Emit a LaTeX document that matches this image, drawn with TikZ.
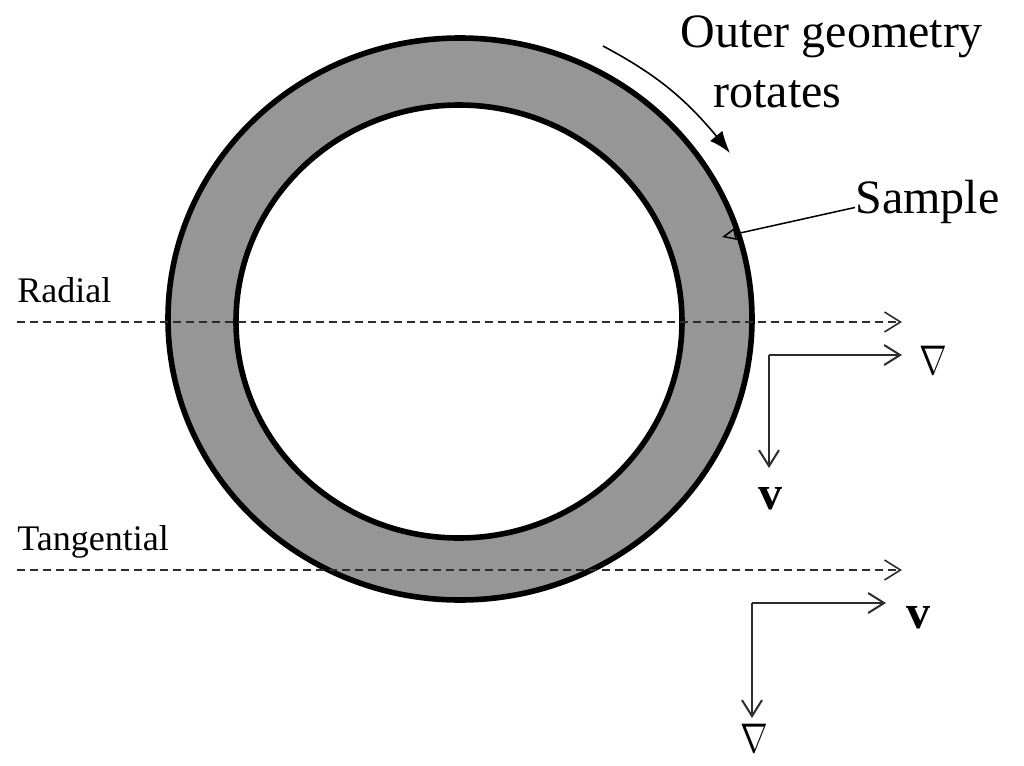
\documentclass[tikz,border=0pt]{standalone}
\usepackage{fontspec}
\setmainfont{Liberation Serif}
\usetikzlibrary{arrows.meta,bending}
\definecolor{ringgray}{RGB}{150,150,150}
\definecolor{axisgray}{RGB}{45,45,45}
\begin{document}
\begin{tikzpicture}[x=0.5pt,y=-0.5pt,
  ringline/.style={line width=2.8pt,draw=black},
  dashline/.style={draw=axisgray,line width=0.8pt,dash pattern=on 4pt off 2.5pt,
    -{Straight Barb[length=8pt,width=10pt,line width=0.8pt]}},
  axisline/.style={draw=axisgray,line width=1pt,
    -{Straight Barb[length=8pt,width=10pt,line width=1pt]}},
  lbl/.style={inner sep=0pt,font=\fontsize{24pt}{28pt}\selectfont},
  smalllbl/.style={inner sep=0pt,font=\fontsize{18pt}{22pt}\selectfont},
  sym/.style={inner sep=0pt,font=\fontsize{22pt}{26pt}\selectfont}]
\useasboundingbox (0,0) rectangle (1024,766);
% ring
\fill[ringgray] (460,319) ellipse [x radius=292, y radius=281];
\draw[ringline] (460,319) ellipse [x radius=292, y radius=281];
\filldraw[fill=white,ringline] (459,321.5) ellipse [x radius=223, y radius=216.5];
% labels
\node[lbl,anchor=base west] (outer) at (680,47) {Outer geometry};
\node[lbl,anchor=base west] (rot) at (713,107) {rotates};
\node[lbl,anchor=base west] (sample) at (855,213) {Sample};
\node[smalllbl,anchor=base west] (radial) at (17,302) {Radial};
\node[smalllbl,anchor=base west] (tang) at (17,550) {Tangential};
% rotation arrow
\coordinate (rs) at (603,46);
\coordinate (re) at (730,153);
\draw[line width=0.8pt,-{Latex[length=11pt,width=8pt,bend]}] (rs) to[bend left=12] (re);
% sample arrow
\coordinate (st) at (722,237);
\draw[line width=0.75pt,-{Triangle[open,length=7pt,width=6pt]}] ([yshift=-3pt]sample.west) -- (st);
% dashed lines
\coordinate (r0) at (17,322);
\coordinate (r1) at (902,322);
\coordinate (t0) at (17,570);
\coordinate (t1) at (902,570);
\draw[dashline] (r0) -- (r1);
\draw[dashline] (t0) -- (t1);
% axes 1 (radial)
\coordinate (c1) at (769,355);
\coordinate (h1) at (902,355);
\coordinate (v1) at (769,468);
\draw[axisline] (c1) -- (h1);
\draw[axisline] (c1) -- (v1);
\node[sym] (n1) at (933,360) {\scalebox{0.8}[1]{$\nabla$}};
\node[lbl] (vv1) at (770,499) {\textbf{v}};
% axes 2 (tangential)
\coordinate (c2) at (752,603);
\coordinate (h2) at (886,603);
\coordinate (v2) at (752,718);
\draw[axisline] (c2) -- (h2);
\draw[axisline] (c2) -- (v2);
\node[lbl] (vv2) at (918,618) {\textbf{v}};
\node[sym] (n2) at (754,738) {\scalebox{0.8}[1]{$\nabla$}};
\end{tikzpicture}
\end{document}
